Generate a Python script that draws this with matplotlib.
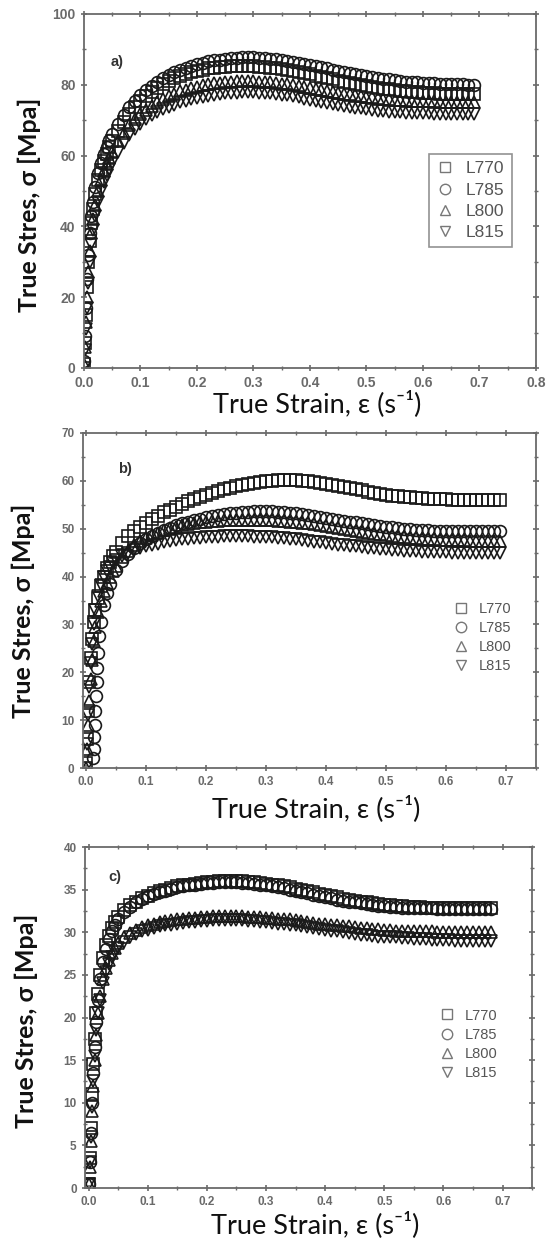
import matplotlib
matplotlib.use('Agg')
import matplotlib.pyplot as plt
from matplotlib.lines import Line2D
from matplotlib.ticker import MultipleLocator

# strain grid shared by the curves
x_early = [0, 0.002, 0.004, 0.006, 0.008, 0.010, 0.013, 0.016, 0.020, 0.025,
           0.030, 0.035, 0.040, 0.045, 0.050, 0.060, 0.070, 0.080, 0.090]
x_main = [0.10, 0.11, 0.12, 0.13, 0.14, 0.15, 0.16, 0.17, 0.18, 0.19,
          0.20, 0.21, 0.22, 0.23, 0.24, 0.25, 0.26, 0.27, 0.28, 0.29,
          0.30, 0.31, 0.32, 0.33, 0.34, 0.35, 0.36, 0.37, 0.38, 0.39,
          0.40, 0.41, 0.42, 0.43, 0.44, 0.45, 0.46, 0.47, 0.48, 0.49,
          0.50, 0.51, 0.52, 0.53, 0.54, 0.55, 0.56, 0.57, 0.58, 0.59,
          0.60, 0.61, 0.62, 0.63, 0.64, 0.65, 0.66, 0.67, 0.68, 0.69]
# L785 in panel b starts a bit later
x_early_b785 = [0.012, 0.013, 0.014, 0.015, 0.016, 0.017, 0.018, 0.019, 0.020, 0.022,
                0.025, 0.030, 0.035, 0.040, 0.050, 0.060, 0.070, 0.080, 0.090]

labels = ['L770', 'L785', 'L800', 'L815']
markers = ['s', 'o', '^', 'v']

# ---- panel a) ----
a_770 = [1, 7, 15, 23, 30, 36, 41, 45, 49, 53, 56, 58.5, 60.5, 62.3, 64, 67, 69.6, 71.8, 73.7,
         75.3, 76.7, 78.0, 79.1, 80.1, 81.0, 81.8, 82.5, 83.0, 83.5,
         83.9, 84.3, 84.6, 84.8, 85.0, 85.1, 85.2, 85.3, 85.3, 85.3,
         85.2, 85.1, 85.0, 84.8, 84.6, 84.4, 84.1, 83.8, 83.5, 83.2,
         82.9, 82.5, 82.2, 81.8, 81.5, 81.1, 80.8, 80.5, 80.2, 79.9,
         79.6, 79.4, 79.1, 78.9, 78.7, 78.5, 78.3, 78.2, 78.0, 77.9,
         77.8, 77.7, 77.6, 77.5, 77.5, 77.4, 77.4, 77.3, 77.3, 77.3]
a_785 = [2, 9, 17, 25, 32, 38, 43, 47, 51, 55, 58, 60.5, 62.5, 64.3, 66, 69, 71.5, 73.6, 75.5,
         77.1, 78.5, 79.7, 80.8, 81.8, 82.7, 83.5, 84.2, 84.8, 85.3,
         85.8, 86.2, 86.6, 86.9, 87.1, 87.3, 87.5, 87.6, 87.7, 87.7,
         87.7, 87.6, 87.5, 87.4, 87.2, 87.0, 86.8, 86.5, 86.2, 85.9,
         85.6, 85.3, 85.0, 84.6, 84.3, 84.0, 83.6, 83.3, 83.0, 82.7,
         82.4, 82.2, 81.9, 81.7, 81.5, 81.3, 81.1, 80.9, 80.8, 80.7,
         80.6, 80.5, 80.4, 80.3, 80.2, 80.2, 80.1, 80.1, 80.0, 80.0]
a_800 = [1, 6, 13, 20, 27, 33, 38, 42, 46, 50, 53, 55.5, 57.5, 59.3, 61, 64, 66.5, 68.5, 70.2,
         71.7, 73.0, 74.1, 75.1, 76.0, 76.8, 77.5, 78.1, 78.6, 79.1,
         79.5, 79.9, 80.2, 80.4, 80.6, 80.8, 80.9, 81.0, 81.0, 81.0,
         81.0, 80.9, 80.8, 80.7, 80.5, 80.3, 80.1, 79.9, 79.7, 79.4,
         79.2, 78.9, 78.6, 78.3, 78.0, 77.8, 77.5, 77.3, 77.0, 76.8,
         76.6, 76.4, 76.3, 76.1, 76.0, 75.8, 75.7, 75.6, 75.5, 75.4,
         75.4, 75.3, 75.3, 75.2, 75.2, 75.1, 75.1, 75.0, 75.0, 75.0]
a_815 = [0, 5, 11, 17, 24, 30, 35, 39, 43, 47, 50, 52.5, 54.5, 56.3, 58, 61, 63.5, 65.7, 67.5,
         69.0, 70.3, 71.4, 72.3, 73.1, 73.8, 74.4, 75.0, 75.5, 75.9,
         76.3, 76.6, 76.9, 77.2, 77.4, 77.6, 77.7, 77.8, 77.9, 77.9,
         77.9, 77.8, 77.7, 77.6, 77.4, 77.2, 77.0, 76.7, 76.4, 76.1,
         75.8, 75.5, 75.2, 74.9, 74.6, 74.3, 74.0, 73.8, 73.5, 73.3,
         73.1, 72.9, 72.7, 72.6, 72.4, 72.3, 72.2, 72.1, 72.0, 72.0,
         71.9, 71.9, 71.8, 71.8, 71.8, 71.8, 71.8, 71.8, 71.8, 71.8]

# ---- panel b) ----
b_770 = [1, 6, 12, 18, 23, 27, 30.5, 33, 35.5, 38, 40, 41.7, 43, 44.2, 45.2, 47, 48.4, 49.5, 50.4,
         51.2, 52.0, 52.7, 53.4, 54.0, 54.6, 55.2, 55.7, 56.2, 56.7,
         57.1, 57.5, 57.9, 58.3, 58.6, 58.9, 59.2, 59.4, 59.6, 59.8,
         59.9, 60.0, 60.1, 60.1, 60.1, 60.1, 60.0, 59.9, 59.8, 59.6,
         59.4, 59.2, 59.0, 58.7, 58.5, 58.2, 58.0, 57.7, 57.5, 57.3,
         57.1, 56.9, 56.8, 56.7, 56.6, 56.5, 56.4, 56.3, 56.3, 56.2,
         56.2, 56.1, 56.1, 56.1, 56.0, 56.0, 56.0, 56.0, 56.0, 56.0]
b_785 = [2, 4, 6.5, 9, 12, 15, 18, 21, 24, 27.5, 30.5, 34, 36.5, 38.5, 41.3, 43.3, 44.8, 46.0, 47.0,
         47.8, 48.5, 49.1, 49.7, 50.2, 50.7, 51.1, 51.5, 51.8, 52.1,
         52.4, 52.6, 52.8, 53.0, 53.2, 53.3, 53.4, 53.5, 53.6, 53.6,
         53.6, 53.6, 53.5, 53.4, 53.3, 53.2, 53.0, 52.9, 52.7, 52.5,
         52.3, 52.1, 51.9, 51.7, 51.5, 51.3, 51.1, 50.9, 50.7, 50.6,
         50.4, 50.3, 50.1, 50.0, 49.9, 49.8, 49.7, 49.7, 49.6, 49.6,
         49.5, 49.5, 49.5, 49.5, 49.5, 49.5, 49.5, 49.5, 49.5, 49.5]
b_800 = [0, 4, 9, 14, 18.5, 22.5, 26.5, 29.5, 32.5, 35, 37, 38.7, 40, 41.2, 42.2, 44, 45.4, 46.5, 47.4,
         48.1, 48.7, 49.2, 49.7, 50.1, 50.4, 50.7, 51.0, 51.2, 51.4,
         51.5, 51.6, 51.7, 51.8, 51.8, 51.9, 51.9, 51.9, 51.9, 51.9,
         51.8, 51.8, 51.7, 51.6, 51.5, 51.4, 51.2, 51.1, 50.9, 50.7,
         50.5, 50.3, 50.1, 49.9, 49.7, 49.5, 49.3, 49.1, 48.9, 48.8,
         48.6, 48.5, 48.3, 48.2, 48.1, 48.0, 47.9, 47.8, 47.8, 47.7,
         47.7, 47.6, 47.6, 47.6, 47.5, 47.5, 47.5, 47.5, 47.5, 47.5]
b_815 = [0, 5, 11, 17, 22, 26, 30, 33, 36, 38.3, 40, 41.2, 42.1, 42.9, 43.5, 44.4, 45.0, 45.5, 45.9,
         46.3, 46.6, 46.9, 47.2, 47.4, 47.6, 47.8, 47.9, 48.0, 48.1,
         48.2, 48.3, 48.3, 48.4, 48.4, 48.4, 48.4, 48.4, 48.3, 48.3,
         48.2, 48.2, 48.1, 48.0, 47.9, 47.8, 47.6, 47.5, 47.3, 47.2,
         47.0, 46.9, 46.7, 46.6, 46.4, 46.3, 46.1, 46.0, 45.9, 45.8,
         45.7, 45.6, 45.5, 45.4, 45.3, 45.3, 45.2, 45.2, 45.1, 45.1,
         45.1, 45.0, 45.0, 45.0, 45.0, 45.0, 45.0, 45.0, 45.0, 45.0]

# ---- panel c) ---- (ends at 0.68)
c_770 = [0.5, 3.5, 7, 11, 14.5, 17.5, 20.5, 22.8, 25, 27, 28.5, 29.6, 30.5, 31.2, 31.8, 32.6, 33.2, 33.6, 34.0,
         34.3, 34.6, 34.8, 35.0, 35.2, 35.4, 35.5, 35.6, 35.7, 35.8,
         35.9, 35.9, 36.0, 36.0, 36.0, 36.0, 36.0, 35.9, 35.9, 35.8,
         35.7, 35.6, 35.5, 35.4, 35.3, 35.1, 35.0, 34.8, 34.7, 34.5,
         34.4, 34.2, 34.1, 33.9, 33.8, 33.7, 33.6, 33.5, 33.4, 33.3,
         33.2, 33.2, 33.1, 33.1, 33.0, 33.0, 33.0, 32.9, 32.9, 32.9,
         32.9, 32.9, 32.9, 32.9, 32.9, 32.9, 32.9, 32.9, 32.9]
c_785 = [0.5, 3, 6.5, 10, 13.5, 16.5, 19.5, 22, 24.5, 26.5, 28, 29.2, 30.1, 30.9, 31.5, 32.4, 33.0, 33.5, 33.9,
         34.2, 34.5, 34.7, 34.9, 35.1, 35.3, 35.4, 35.5, 35.6, 35.7,
         35.8, 35.8, 35.9, 35.9, 35.9, 35.9, 35.8, 35.8, 35.7, 35.6,
         35.5, 35.4, 35.3, 35.2, 35.0, 34.9, 34.7, 34.6, 34.4, 34.3,
         34.1, 34.0, 33.8, 33.7, 33.6, 33.5, 33.4, 33.3, 33.2, 33.1,
         33.1, 33.0, 33.0, 32.9, 32.9, 32.8, 32.8, 32.8, 32.8, 32.7,
         32.7, 32.7, 32.7, 32.7, 32.7, 32.7, 32.7, 32.7, 32.7]
c_800 = [0.5, 2.5, 5.5, 9, 12, 15, 18, 20.5, 22.5, 24.5, 25.8, 26.8, 27.6, 28.2, 28.7, 29.4, 29.9, 30.3, 30.6,
         30.8, 31.0, 31.2, 31.3, 31.4, 31.5, 31.6, 31.7, 31.7, 31.8,
         31.8, 31.9, 31.9, 31.9, 31.9, 31.9, 31.9, 31.8, 31.8, 31.8,
         31.7, 31.7, 31.6, 31.5, 31.5, 31.4, 31.3, 31.2, 31.1, 31.0,
         31.0, 30.9, 30.8, 30.7, 30.7, 30.6, 30.5, 30.5, 30.4, 30.4,
         30.3, 30.3, 30.2, 30.2, 30.2, 30.1, 30.1, 30.1, 30.1, 30.0,
         30.0, 30.0, 30.0, 30.0, 30.0, 30.0, 30.0, 30.0, 30.0]
c_815 = [0.5, 3, 6, 9.5, 12.5, 15.5, 18.5, 20.5, 22, 24, 25.3, 26.3, 27.1, 27.7, 28.2, 28.9, 29.4, 29.8, 30.1,
         30.3, 30.5, 30.7, 30.8, 30.9, 31.0, 31.1, 31.2, 31.2, 31.3,
         31.3, 31.4, 31.4, 31.4, 31.4, 31.4, 31.4, 31.3, 31.3, 31.2,
         31.2, 31.1, 31.0, 31.0, 30.9, 30.8, 30.7, 30.6, 30.5, 30.4,
         30.3, 30.2, 30.1, 30.0, 29.9, 29.8, 29.7, 29.7, 29.6, 29.5,
         29.5, 29.4, 29.4, 29.3, 29.3, 29.2, 29.2, 29.2, 29.1, 29.1,
         29.1, 29.1, 29.0, 29.0, 29.0, 29.0, 29.0, 29.0, 29.0]

x_full = x_early + x_main
x_c = x_early + x_main[:-1]
x_b785 = x_early_b785 + x_main

panels = [
    dict(xs=[x_full, x_full, x_full, x_full], ys=[a_770, a_785, a_800, a_815],
         rect=[0.151, 0.7047, 0.813, 0.2841], xlim=(0, 0.8), ylim=(0, 100),
         ymaj=20, ymin=10, tag='a)', tagpos=(0.047, 86.5), tsize=10,
         leg=(0.745, 0.628), legframe=True, legsize=12.5,
         ylab_x=-0.095, ylab_y=0.46, xlab_y=-0.062),
    dict(xs=[x_full, x_b785, x_full, x_full], ys=[b_770, b_785, b_800, b_815],
         rect=[0.149, 0.3836, 0.815, 0.2689], xlim=(-0.005, 0.75), ylim=(0, 70),
         ymaj=10, ymin=5, tag='b)', tagpos=(0.053, 62.5), tsize=8.5,
         leg=(0.79, 0.535), legframe=False, legsize=10.5,
         ylab_x=-0.105, ylab_y=0.47, xlab_y=-0.08),
    dict(xs=[x_c, x_c, x_c, x_c], ys=[c_770, c_785, c_800, c_815],
         rect=[0.153, 0.0465, 0.804, 0.2737], xlim=(-0.006, 0.75), ylim=(0, 40),
         ymaj=5, ymin=2.5, tag='c)', tagpos=(0.033, 36.5), tsize=8.5,
         leg=(0.765, 0.565), legframe=False, legsize=10.5,
         ylab_x=-0.105, ylab_y=0.49, xlab_y=-0.068),
]

fig = plt.figure(figsize=(5.56, 12.46), dpi=100)
lab_font = ['Lato', 'DejaVu Sans']
tick_font = 'Liberation Sans'
gray = '#6a6a6a'

for p in panels:
    ax = fig.add_axes(p['rect'])
    for xx, yy, m in zip(p['xs'], p['ys'], markers):
        ax.plot(xx, yy, linestyle='none', marker=m, ms=8.5, mfc='none',
                mec='#1a1a1a', mew=1.2)
    ax.set_xlim(*p['xlim'])
    ax.set_ylim(*p['ylim'])
    ax.xaxis.set_major_locator(MultipleLocator(0.1))
    ax.xaxis.set_minor_locator(MultipleLocator(0.05))
    ax.yaxis.set_major_locator(MultipleLocator(p['ymaj']))
    ax.yaxis.set_minor_locator(MultipleLocator(p['ymin']))
    ax.tick_params(which='both', direction='inout', top=True, right=True,
                   color=gray, labelcolor=gray, labelsize=p['tsize'])
    ax.tick_params(which='major', length=5, width=1.2)
    ax.tick_params(which='minor', length=3, width=1.0)
    for t in ax.get_xticklabels() + ax.get_yticklabels():
        t.set_fontfamily(tick_font)
        t.set_fontweight('bold')
    for s in ax.spines.values():
        s.set_color(gray)
        s.set_linewidth(1.3)
    ax.set_xlabel('True Strain, ε (s⁻¹)', family=lab_font, fontsize=19.5,
                  color='#111111')
    ax.xaxis.set_label_coords(0.515, p['xlab_y'])
    ax.set_ylabel('True Stres, σ [Mpa]', family=lab_font, fontsize=18,
                  fontweight='bold', color='#111111')
    ax.yaxis.set_label_coords(p['ylab_x'], p['ylab_y'])
    ax.text(p['tagpos'][0], p['tagpos'][1], p['tag'], family=tick_font,
            fontsize=10.5, fontweight='bold', color='#333333', va='center')
    handles = [Line2D([], [], linestyle='none', marker=m, ms=7.5, mfc='white',
                      mec='#777777', mew=1.0) for m in markers]
    leg = ax.legend(handles, labels, loc='upper left', bbox_to_anchor=p['leg'],
                    frameon=p['legframe'], fancybox=False, handletextpad=0.7,
                    labelspacing=0.35, borderpad=0.4, handlelength=1.0,
                    prop={'family': tick_font, 'size': p['legsize']})
    for t in leg.get_texts():
        t.set_color('#555555')
    if p['legframe']:
        leg.get_frame().set_edgecolor('#777777')
        leg.get_frame().set_linewidth(1.2)

fig.savefig('out.png', dpi=100)
